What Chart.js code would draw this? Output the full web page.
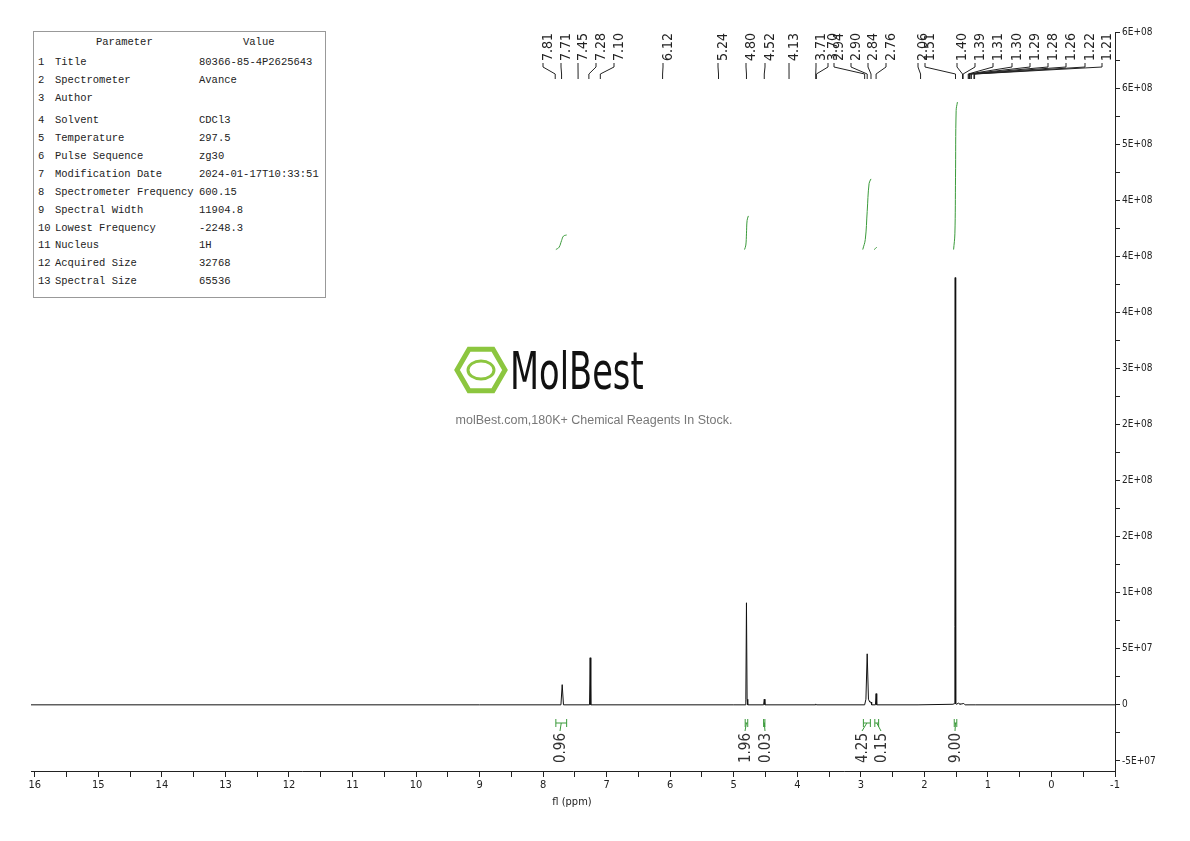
<!DOCTYPE html>
<html><head><meta charset="utf-8">
<script src="https://cdn.jsdelivr.net/npm/chart.js@4"></script>
<style>
body{margin:0;background:#fff;width:1190px;height:841px;overflow:hidden;position:relative}
#wrap{position:absolute;left:0;top:0;width:1190px;height:841px}
#tbl{position:absolute;left:33px;top:31px;width:291px;height:265px;border:1px solid #999;font-family:"Liberation Mono","DejaVu Sans Mono",monospace;font-size:10.5px;color:#222;background:#fff}
#tbl div{position:absolute;white-space:pre}
</style></head><body>
<div id="wrap"><canvas id="c" width="1190" height="841"></canvas></div>
<div id="tbl"></div>
<script>
// ---- data ----
const paramNames=["Title","Spectrometer","Author","Solvent","Temperature","Pulse Sequence","Modification Date","Spectrometer Frequency","Spectral Width","Lowest Frequency","Nucleus","Acquired Size","Spectral Size"];
const paramValues=["80366-85-4P2625643","Avance","","CDCl3","297.5","zg30","2024-01-17T10:33:51","600.15","11904.8","-2248.3","1H","32768","65536"];
const specPpm=[16.06,9.0,7.72,7.70,7.68,7.27,7.26,7.25,5.0,4.82,4.81,4.80,4.79,4.78,4.53,4.52,4.51,3.72,3.71,3.70,2.94,2.92,2.90,2.88,2.86,2.84,2.83,2.77,2.76,2.75,2.1,1.55,1.53,1.52,1.515,1.51,1.505,1.50,1.49,1.46,1.45,1.44,1.38,1.37,1.36,1.2,-1];
const specInt=[0,0,0,1.8e7,0,0,4.2e7,0,0,0,5e6,9.1e7,5e6,0,0,5e6,0,0,8e5,0,0,5e6,4.55e7,5e6,2.5e6,2.5e6,0,0,1e7,0,0,5e5,1e6,7e7,3.81e8,7e7,1e6,5e5,5e5,1.5e6,1e6,5e5,1.2e6,5e5,0,0,0];
const integPpm=[[7.80,7.75,7.71,7.68,7.63],[4.83,4.81,4.80,4.79,4.77],[2.97,2.93,2.90,2.87,2.84],[2.79,2.77,2.75],[1.54,1.52,1.51,1.50,1.48]];
const integVal=[[4.06e8,4.08e8,4.14e8,4.18e8,4.19e8],[4.06e8,4.1e8,4.2e8,4.32e8,4.36e8],[4.06e8,4.15e8,4.4e8,4.65e8,4.69e8],[4.06e8,4.07e8,4.08e8],[4.06e8,4.2e8,4.7e8,5.3e8,5.375e8]];
const peakLabels=["7.81","7.71","7.45","7.28","7.10","6.12","5.24","4.80","4.52","4.13","3.71","3.70","2.94","2.90","2.84","2.76","2.06","1.51","1.40","1.39","1.31","1.30","1.29","1.28","1.26","1.22","1.21"];
const peakLabelX=[543,561,578,596,614,663,718,746,765,789,816,828,834,851,868,886,918,925,957,975,993,1012,1030,1048,1066,1085,1102];
const integLabels=["0.96","1.96","0.03","4.25","0.15","9.00"];
const integLabelX=[560,745,765,862,881,955];
const integFrom=[7.80,4.82,4.53,2.96,2.78,1.53];
const integTo=[7.63,4.78,4.51,2.85,2.72,1.49];
const yTickVals=[-5e7,0,5e7,1e8,1.5e8,2e8,2.5e8,3e8,3.5e8,4e8,4.5e8,5e8,5.5e8,6e8];
const yTickLabels=["-5E+07","0","5E+07","1E+08","2E+08","2E+08","2E+08","3E+08","4E+08","4E+08","4E+08","5E+08","6E+08","6E+08"];

const tbl=document.getElementById('tbl');
function cell(t,x,y){const d=document.createElement('div');d.textContent=t;d.style.left=x+'px';d.style.top=y+'px';tbl.appendChild(d);}
cell("Parameter",62,4);cell("Value",209,4);
const rowY=[26,44,62,84,102,120,138,156,174,192,209,227,245];
paramNames.forEach((n,i)=>{cell(String(i+1),4,rowY[i]-2);cell(n,21,rowY[i]-2);cell(paramValues[i],165,rowY[i]-2);});

const spec=specPpm.map((p,i)=>({x:p,y:specInt[i]}));
const integSets=integPpm.map((a,k)=>({data:a.map((p,i)=>({x:p,y:integVal[k][i]})),borderColor:'#3a9a3a',borderWidth:1,pointRadius:0,tension:0.4,fill:false}));

const COND='"DejaVu Sans Condensed","Liberation Sans Narrow",sans-serif';
const overlay={id:'ov',afterDraw(ch){
 const c=ch.ctx,xs=ch.scales.x;
 c.save();
 c.font='14px "DejaVu Sans Condensed",sans-serif';c.fillStyle='#222';c.strokeStyle='#222';c.lineWidth=1;
 peakLabels.forEach((l,i)=>{
  const lx=peakLabelX[i],px=xs.getPixelForValue(parseFloat(l));
  c.save();c.translate(lx+5,33);c.rotate(-Math.PI/2);c.textAlign='right';c.textBaseline='middle';c.fillText(l,0,0);c.restore();
  c.beginPath();c.moveTo(lx,63);c.lineTo(lx,67);c.lineTo(px,74);c.lineTo(px,79);c.stroke();
 });
 integLabels.forEach((l,i)=>{
  const a=xs.getPixelForValue(integFrom[i]),b=xs.getPixelForValue(integTo[i]),m=(a+b)/2,lx=integLabelX[i];
  c.strokeStyle='#3a9a3a';c.beginPath();c.moveTo(a,719);c.lineTo(a,727);c.moveTo(a,723);c.lineTo(b,723);c.moveTo(b,719);c.lineTo(b,727);c.moveTo(m,723);c.lineTo(lx,731);c.stroke();
  c.save();c.fillStyle='#333';c.font='15px "DejaVu Sans Condensed",sans-serif';c.translate(lx+1,733);c.rotate(-Math.PI/2);c.textAlign='right';c.textBaseline='middle';c.fillText(l,0,0);c.restore();
 });
 c.strokeStyle='#8cc63f';c.lineWidth=5;
 const hx=481,hy=370,r=24;
 c.beginPath();for(let k=0;k<6;k++){const ang=Math.PI/3*k;const X=hx+r*Math.cos(ang),Y=hy+r*Math.sin(ang);k?c.lineTo(X,Y):c.moveTo(X,Y);}c.closePath();c.stroke();
 c.lineWidth=3;c.beginPath();c.ellipse(hx,hy,13,9,0,0,Math.PI*2);c.stroke();
 c.fillStyle='#111';c.font='52px "DejaVu Sans Condensed",sans-serif';c.textBaseline='middle';c.textAlign='left';
 c.save();c.translate(510,375);c.scale(0.72,1);c.fillText('MolBest',0,0);c.restore();
 c.fillStyle='#777';c.font='12.5px "Liberation Sans",Arial,sans-serif';c.textAlign='center';
 c.fillText('molBest.com,180K+ Chemical Reagents In Stock.',594,421);
 c.fillStyle='#222';c.font='11px '+COND;c.fillText('fl (ppm)',572,802);
 c.restore();
}};

new Chart(document.getElementById('c'),{type:'line',
 data:{datasets:[{data:spec,borderColor:'#111',borderWidth:1,pointRadius:0,tension:0},...integSets]},
 options:{responsive:false,animation:false,
  layout:{padding:{left:31,top:32,right:0,bottom:0}},
  plugins:{legend:{display:false},tooltip:{enabled:false}},
  scales:{
   x:{type:'linear',reverse:true,min:-1,max:16.06,
    afterFit(s){s.height=70;},
    afterBuildTicks(s){const t=[];for(let v=-1;v<=16;v+=0.5)t.push({value:v});s.ticks=t;},
    grid:{drawOnChartArea:false,tickLength:6,color:'#222'},border:{color:'#222'},
    ticks:{color:'#222',font:{size:11,family:COND},maxRotation:0,autoSkip:false,padding:2,
     callback:v=>Number.isInteger(v)?String(v):''}},
   y:{position:'right',min:-5.9e7,max:6e8,
    afterFit(s){s.width=75;},
    afterBuildTicks(s){s.ticks=yTickVals.concat([-2.5e7,2.5e7,7.5e7,1.25e8,1.75e8,2.25e8,2.75e8,3.25e8,3.75e8,4.25e8,4.75e8,5.25e8,5.75e8]).map(v=>({value:v}));},
    grid:{drawOnChartArea:false,tickLength:5,color:'#222'},border:{color:'#222'},
    ticks:{color:'#222',font:{size:10,family:COND},padding:2,
     callback:v=>{const i=yTickVals.indexOf(v);return i<0?'':yTickLabels[i];}}}
  }},plugins:[overlay]});
</script></body></html>
